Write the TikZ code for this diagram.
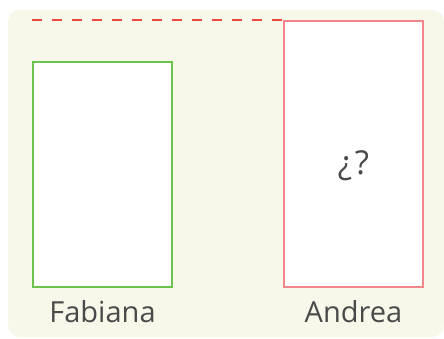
\documentclass[tikz,border=0pt]{standalone}
\usepackage{fontspec}
\setmainfont{Open Sans}
\usepackage{xcolor}
\usetikzlibrary{calc}
\definecolor{panel}{HTML}{F7F8E9}
\definecolor{boxgreen}{HTML}{6CC24A}
\definecolor{boxred}{HTML}{F2868A}
\definecolor{dashred}{HTML}{EA4A3E}
\definecolor{labelgray}{HTML}{4A4A4A}

\begin{document}
\begin{tikzpicture}[x=1pt, y=-1pt, every node/.style={font=\fontsize{29}{32}\selectfont, text=labelgray}]
  \useasboundingbox (0,0) rectangle (444,338);
  \fill[panel, rounded corners=12pt] (8,10) rectangle (444,337);
  \node[draw=boxgreen, line width=1.8pt, fill=white, minimum width=139pt, minimum height=225pt, inner sep=0pt] (fabiana) at (102.5,174.5) {};
  \node[draw=boxred, line width=1.8pt, fill=white, minimum width=139pt, minimum height=266pt, inner sep=0pt] (andrea) at (353.5,154) {};
  \node[font=\fontsize{33}{36}\selectfont] (question) at ($(andrea.center)+(0,12)$) {¿\kern3pt?};
  \node (fabianalabel) at ($(fabiana.south)+(0,24)$) {Fabiana};
  \node (andrealabel) at ($(andrea.south)+(0,24)$) {Andrea};
  \coordinate (dashstart) at (fabiana.west |- andrea.north);
  \draw[dashred, line width=2pt, dash pattern=on 10pt off 10pt] (dashstart) -- (andrea.north west);
\end{tikzpicture}
\end{document}
